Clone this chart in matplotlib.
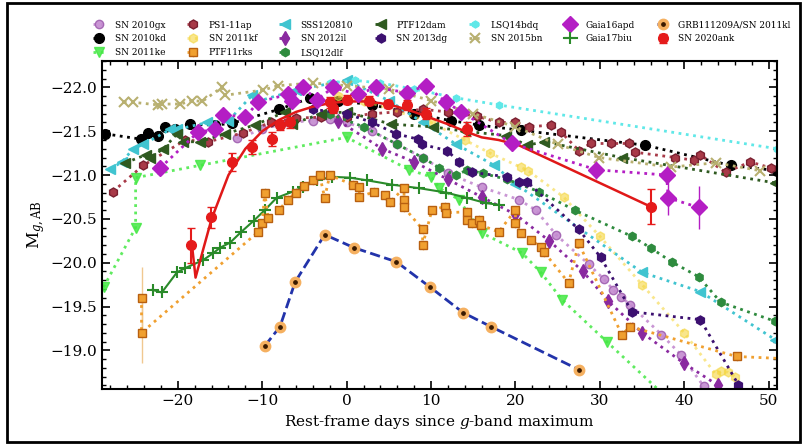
import numpy as np
import matplotlib
matplotlib.use('Agg')
import matplotlib.pyplot as plt
from matplotlib.patches import Rectangle

# light curves (rest-frame days, absolute g mag)
sn2010gx_day = [-13, -10, -7, -4, -2, 0, 3, 6, 9, 12, 16, 20.4, 22.4, 24.8, 28.7, 30.5, 31.6, 32.5, 33.6, 37.3, 39.6, 42.3]
sn2010gx_mag = [-21.42, -21.52, -21.6, -21.62, -21.64, -21.6, -21.5, -21.35, -21.2, -21.02, -20.86, -20.72, -20.6, -20.32, -19.98, -19.81, -19.69, -19.61, -19.52, -19.18, -18.95, -18.59]

sn2010kd_day = [-28.6, -24.4, -23.5, -22.4, -21.5, -20.3, -18.5, -15.6, -13.6, -8, -4.3, -1, 3, 8, 12.4, 15.7, 20.7, 35.4, 45.5, 51]
sn2010kd_mag = [-21.47, -21.41, -21.48, -21.44, -21.55, -21.53, -21.58, -21.57, -21.59, -21.75, -21.88, -21.85, -21.8, -21.7, -21.62, -21.57, -21.51, -21.34, -21.11, -21.05]

sn2011ke_day = [-28.8, -25.0, -25.0, -17.4, 0.0, 7.4, 10.0, 11.0, 13.3, 16.0, 20.8, 23.0, 25.5, 30.8, 37.5]
sn2011ke_mag = [-19.72, -20.4, -20.97, -21.11, -21.43, -21.06, -20.98, -20.85, -20.72, -20.34, -20.11, -19.89, -19.58, -19.1, -18.5]

ps1_11ap_day = [-27.7, -24.1, -19.1, -16.4, -12.3, -9, -6, -3, 0, 3, 6, 9, 12, 15.5, 18, 20, 21.6, 24.2, 25.4, 27.5, 28.9, 31.3, 33.4, 34.2, 38.9, 41.1, 41.9, 44.9, 47.8, 50.3]
ps1_11ap_mag = [-20.81, -21.11, -21.4, -21.38, -21.48, -21.6, -21.65, -21.66, -21.66, -21.7, -21.72, -21.75, -21.72, -21.67, -21.6, -21.6, -21.55, -21.57, -21.49, -21.28, -21.36, -21.36, -21.36, -21.26, -21.2, -21.17, -21.23, -21.03, -21.15, -21.08]

sn2011kf_day = [-1, 2, 10, 14, 17, 20.6, 21.5, 25.7, 30, 35, 40, 43.7, 44.4, 45.2, 46]
sn2011kf_mag = [-21.9, -21.85, -21.6, -21.4, -21.25, -21.09, -21.05, -20.75, -20.3, -19.75, -19.2, -18.73, -18.76, -18.75, -18.7]

ptf11rks_day = [-24.3, -24.3, -10.5, -10.0, -9.7, -9.3, -8.0, -7.0, -6.0, -5.0, -4.0, -3.2, -2.6, -2.0, 0.7, 1.5, 1.5, 3.3, 4.5, 5.1,
                6.8, 6.8, 6.8, 9.0, 9.0, 10.1, 11.6, 11.8, 14.2, 14.3, 14.9, 15.7, 15.9, 18.0, 20.0, 20.0, 20.6, 21.8, 23.0, 23.4,
                26.3, 27.5, 32.6, 33.6, 46.2, 53]
ptf11rks_mag = [-19.6, -19.2, -20.35, -20.45, -20.8, -20.51, -20.6, -20.72, -20.8, -20.87, -20.94, -21.0, -20.74, -21.0, -20.89, -20.86, -20.75, -20.81, -20.77, -20.69,
                -20.85, -20.72, -20.63, -20.38, -20.2, -20.6, -20.64, -20.57, -20.58, -20.49, -20.45, -20.49, -20.43, -20.35, -20.6, -20.45, -20.34, -20.26, -20.18, -20.12,
                -19.77, -20.22, -19.18, -19.27, -18.93, -18.9]
ptf11rks_err = [0.35, 0.35] + [0.05] * 44

sss120810_day = [-28, -26.6, -25.3, -24.1, -20.9, -20.1, -16.5, -14, -11.2, -10.9, -6, 0, 5, 9, 13, 17.5, 20, 35, 41.9, 50.8]
sss120810_mag = [-21.07, -21.15, -21.3, -21.35, -21.52, -21.52, -21.6, -21.62, -21.91, -21.83, -21.97, -22.08, -21.85, -21.6, -21.35, -21.11, -20.9, -19.89, -19.67, -19.12]

sn2012il_day = [-1, 4.2, 8, 12, 16, 20, 24, 28, 31, 35, 40, 44]
sn2012il_mag = [-21.62, -21.3, -21.15, -20.95, -20.75, -20.55, -20.25, -19.9, -19.56, -19.2, -18.85, -18.6]

lsq12dlf_day = [-2, 2, 6, 9, 11, 13, 14.3, 16.1, 19, 22.8, 27, 33.8, 36, 38.5, 41.7, 44.3, 50.8]
lsq12dlf_mag = [-21.7, -21.55, -21.35, -21.2, -21.08, -21.0, -21.06, -21.02, -20.95, -20.81, -20.6, -20.3, -20.17, -20.01, -19.84, -19.55, -19.33]

ptf12dam_day = [-26.2, -23.8, -23.3, -21.7, -20.1, -19.4, -17.4, -14.4, -10.9, -7.3, -6.5, -3, 0, 5.3, 10.2, 14, 18.9, 21.4, 23.4, 32.6, 50.8]
ptf12dam_mag = [-21.14, -21.23, -21.2, -21.3, -21.47, -21.38, -21.38, -21.47, -21.57, -21.72, -21.58, -21.7, -21.72, -21.58, -21.55, -21.5, -21.45, -21.34, -21.38, -21.2, -20.91]

sn2013dg_day = [-4, 0, 3, 5.9, 8.4, 8.9, 11.9, 13.3, 14.9, 19, 20.4, 21.4, 27.5, 30.1, 33.8, 41.9, 46.4]
sn2013dg_mag = [-21.75, -21.7, -21.6, -21.47, -21.41, -21.35, -21.28, -21.15, -21.03, -20.98, -20.92, -20.92, -20.38, -20.06, -19.44, -19.35, -18.61]

lsq14bdq_day = [-2, 1, 4, 8, 13, 18, 51]
lsq14bdq_mag = [-22.05, -22.08, -22.05, -21.98, -21.88, -21.8, -21.3]

sn2015bn_day = [-26.4, -25.3, -22.3, -21.9, -19.7, -18.3, -17.1, -14.8, -14.4, -9.9, -8.1, -4, 0, 5, 10, 15, 20, 25, 29.9, 38.4, 43.7, 49]
sn2015bn_mag = [-21.83, -21.83, -21.8, -21.81, -21.81, -21.85, -21.84, -22.0, -21.91, -21.97, -22.02, -22.05, -22.02, -21.98, -21.85, -21.7, -21.55, -21.35, -21.2, -21.09, -21.14, -21.05]

gaia16apd_day = [-22.1, -17.6, -15.6, -14.6, -12, -10.5, -7, -6.5, -5.2, -3.5, -1.6, 1.3, 3.5, 7.1, 9.4, 11.8, 13.6, 19.6, 29.6, 37.9, 38.1, 41.7]
gaia16apd_mag = [-21.08, -21.49, -21.52, -21.69, -21.66, -21.83, -21.92, -21.85, -22.0, -21.86, -22.0, -21.92, -22.0, -21.94, -22.02, -21.83, -21.72, -21.36, -21.06, -21.0, -20.74, -20.63]
gaia16apd_err = [0.05, 0.05, 0.05, 0.05, 0.05, 0.05, 0.05, 0.05, 0.05, 0.05, 0.05, 0.05, 0.05, 0.05, 0.05, 0.05, 0.05, 0.08, 0.1, 0.1, 0.2, 0.25]

gaia17biu_day = [-23.0, -21.9, -20.1, -19.1, -17.0, -15.8, -15.0, -13.8, -12.5, -11.0, -9.7, -8.3, -6.4, -5.2, -3.5, -1.7, 0.4, 2.4, 5.4, 8.6, 11.8, 14.2, 16.5, 18.1]
gaia17biu_mag = [-19.69, -19.66, -19.89, -19.94, -20.03, -20.11, -20.17, -20.23, -20.35, -20.48, -20.6, -20.74, -20.81, -20.86, -20.94, -20.98, -20.97, -20.94, -20.89, -20.85, -20.8, -20.74, -20.68, -20.66]

sn2011kl_day = [-9.7, -7.9, -6.1, -2.6, 0.9, 5.9, 9.9, 13.8, 17.1, 27.5]
sn2011kl_mag = [-19.05, -19.27, -19.78, -20.32, -20.17, -20.01, -19.72, -19.43, -19.27, -18.78]

sn2020ank_day = [-18.4, -16.1, -13.6, -11.2, -8.9, -7.9, -6.7, -2.0, -1.6, 0.0, 2.7, 4.9, 7.1, 9.4, 14.3, 36.0]
sn2020ank_mag = [-20.2, -20.52, -21.15, -21.32, -21.41, -21.57, -21.6, -21.83, -21.77, -21.86, -21.85, -21.81, -21.8, -21.7, -21.52, -20.64]
sn2020ank_err = [0.2, 0.12, 0.1, 0.08, 0.08, 0.06, 0.06, 0.06, 0.06, 0.05, 0.05, 0.05, 0.06, 0.06, 0.08, 0.2]

# polynomial fit drawn through SN 2020ank
fit_day = [-18.3, -17.9, -17, -16, -14, -12, -10, -8, -6, -4, -2, 0, 2, 4, 6, 8, 10, 12, 14, 16, 18, 20.4, 36]
fit_mag = [-20.18, -19.83, -20.15, -20.5, -21.0, -21.3, -21.5, -21.63, -21.72, -21.78, -21.82, -21.84, -21.84, -21.82, -21.78, -21.72, -21.65, -21.58, -21.5, -21.43, -21.4, -21.34, -20.64]

plt.rcParams['font.family'] = 'DejaVu Serif'
plt.rcParams['mathtext.fontset'] = 'dejavuserif'

fig = plt.figure(figsize=(8.02, 4.46), dpi=100)
ax = fig.add_axes([0.127, 0.128, 0.842, 0.735])

dot = dict(ls=':', lw=2.0)
h = []

h += ax.plot(sn2010gx_day, sn2010gx_mag, marker='o', ms=6, color='#c48bd0', mec='#a060b0', alpha=0.9, label='SN 2010gx', **dot)
h += ax.plot(sn2010kd_day, sn2010kd_mag, marker='o', ms=7, color='black', label='SN 2010kd', **dot)
h += ax.plot(sn2011ke_day, sn2011ke_mag, marker='v', ms=7, color='#44e844', alpha=0.85, label='SN 2011ke', **dot)
h += ax.plot(ps1_11ap_day, ps1_11ap_mag, marker='h', ms=6.5, color='#a83a48', mec='#7a2030', label='PS1-11ap', **dot)
h += ax.plot(sn2011kf_day, sn2011kf_mag, marker='h', ms=6.5, color='#f5d640', alpha=0.6, label='SN 2011kf', **dot)
h.append(ax.errorbar(ptf11rks_day, ptf11rks_mag, yerr=ptf11rks_err, marker='s', ms=6,
                     color='#f0a030', mec='#b86010', ecolor='#f0c890', elinewidth=1, label='PTF11rks', **dot))
h += ax.plot(sss120810_day, sss120810_mag, marker='<', ms=7, color='#40c4d0', label='SSS120810', **dot)
h += ax.plot(sn2012il_day, sn2012il_mag, marker='d', ms=7, color='#8a2aa0', label='SN 2012il', **dot)
h += ax.plot(lsq12dlf_day, lsq12dlf_mag, marker='h', ms=6, color='#2e8b3e', label='LSQ12dlf', **dot)
h += ax.plot(ptf12dam_day, ptf12dam_mag, marker='<', ms=7, color='#2f5a20', label='PTF12dam', **dot)
h += ax.plot(sn2013dg_day, sn2013dg_mag, marker='h', ms=6.5, color='#3c1070', label='SN 2013dg', **dot)
h += ax.plot(lsq14bdq_day, lsq14bdq_mag, marker='h', ms=5, color='#60e8e8', label='LSQ14bdq', **dot)
h += ax.plot(sn2015bn_day, sn2015bn_mag, marker='x', ms=7, mew=1.5, color='#b8b070', label='SN 2015bn', **dot)
h.append(ax.errorbar(gaia16apd_day, gaia16apd_mag, yerr=gaia16apd_err, marker='D', ms=8, color='#b41ec4',
                     elinewidth=1, label='Gaia16apd', **dot))
h += ax.plot(gaia17biu_day, gaia17biu_mag, marker='+', ms=9, mew=1.5, color='#2a8a2a', lw=1.5, label='Gaia17biu')
h += ax.plot(sn2011kl_day, sn2011kl_mag, marker='o', ms=6, mfc='#3a1a00', mec='#f5b060', mew=2.5,
             ls='--', lw=2, color='#2233aa', label='GRB111209A/SN 2011kl')
ax.plot(fit_day, fit_mag, color='#e01818', lw=1.8)
h.append(ax.errorbar(sn2020ank_day, sn2020ank_mag, yerr=sn2020ank_err, fmt='o', ms=7, color='#e51b1b',
                     capsize=3, elinewidth=1.5, label='SN 2020ank', zorder=5))

ax.set_xlim(-29, 51)
ax.set_ylim(-18.56, -22.3)
ax.set_xticks(np.arange(-20, 51, 10))
ax.set_xticks(np.arange(-28, 51, 2), minor=True)
ax.set_yticks(np.arange(-22.0, -18.9, 0.5))
ax.set_yticks(np.arange(-22.3, -18.55, 0.1), minor=True)
ax.tick_params(which='both', direction='in', top=True, right=True, labelsize=11)
ax.tick_params(which='major', length=6, width=1.2)
ax.tick_params(which='minor', length=3, width=1)
for s in ax.spines.values():
    s.set_linewidth(1.5)

ax.set_xlabel('Rest-frame days since $g$-band maximum', fontsize=11)
ax.set_ylabel(r'M$_{g,\rm AB}$', fontsize=12, labelpad=2)

ax.legend(handles=h, labels=[x.get_label() for x in h], ncol=7, loc='lower left',
          bbox_to_anchor=(0.108, 0.857), bbox_transform=fig.transFigure,
          fontsize=6.5, frameon=False, handlelength=1.4, columnspacing=2.4, handletextpad=1.0,
          labelspacing=0.55, borderpad=0.2)

fig.patches.append(Rectangle((0.009, 0.009), 0.989, 0.985, transform=fig.transFigure,
                             fill=False, lw=2, edgecolor='black'))

fig.savefig('out.png', dpi=100)
